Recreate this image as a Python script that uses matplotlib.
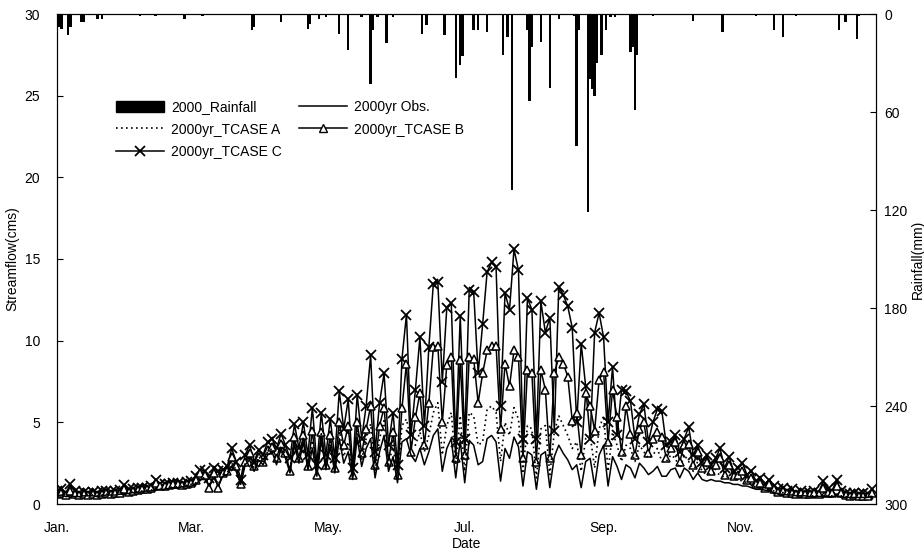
import numpy as np
import matplotlib
matplotlib.use("Agg")
import matplotlib.pyplot as plt
from matplotlib.patches import Patch
from matplotlib.lines import Line2D

plt.rcParams['font.family'] = ['Liberation Sans', 'DejaVu Sans']
plt.rcParams['font.size'] = 10

# day of year (every 2nd day), 2000
days = np.arange(0, 366, 2)

# Observed streamflow (cms)
obs = [0.5,0.55,0.45,0.5,0.45,0.45,0.5,0.5,0.5,0.45,0.5,0.55,0.55,0.55,0.6,0.6,
       0.65,0.7,0.7,0.75,0.8,0.8,0.85,0.9,0.9,0.95,1.0,1.0,1.05,1.1,
       1.1,1.2,1.5,1.5,1.1,1.6,1.1,1.7,1.8,2.3,2.0,1.2,2.4,2.7,2.0,2.7,
       2.4,3.0,3.2,2.4,3.4,2.8,1.9,3.6,2.5,3.8,2.1,3.4,1.7,3.9,2.1,
       3.6,1.9,4.0,2.5,3.2,1.5,4.1,2.3,3.4,4.0,1.6,3.2,4.2,2.0,2.9,
       1.3,3.8,4.0,3.0,2.6,3.4,2.4,3.2,4.2,4.6,2.0,3.4,4.0,1.6,3.9,
       1.3,3.9,3.6,2.4,2.6,4.0,4.2,3.8,1.4,3.4,2.8,4.1,3.5,1.1,3.2,3.0,
       0.9,3.0,3.2,1.0,2.9,3.6,3.1,2.7,2.1,2.4,1.0,2.6,2.8,1.1,3.0,
       3.6,1.1,2.9,2.3,1.5,2.4,2.2,1.6,2.5,2.2,1.8,2.0,2.3,1.7,1.7,
       2.1,2.2,1.6,2.2,2.0,1.5,1.9,1.5,1.4,1.5,1.4,1.4,1.3,1.3,1.2,1.2,
       1.1,1.1,1.0,0.9,0.9,0.85,0.8,0.7,0.6,0.6,0.55,0.55,0.5,0.5,0.5,
       0.45,0.45,0.45,0.5,0.45,0.45,0.5,0.45,0.4,0.4,0.4,0.4,0.4,0.4,0.45]

# TCASE A
case_a = [0.55,0.6,0.5,0.55,0.5,0.5,0.55,0.55,0.55,0.5,0.55,0.6,0.6,0.6,0.65,0.7,
          0.7,0.75,0.75,0.8,0.85,0.85,0.95,0.95,0.95,1.0,1.05,1.05,1.1,1.15,
          1.2,1.3,1.6,1.6,1.2,1.7,1.2,1.8,1.9,2.5,2.1,1.3,2.5,2.9,2.2,2.9,
          2.6,3.2,3.4,2.6,3.6,3.0,2.1,3.9,2.7,4.1,2.3,3.9,1.9,4.3,2.3,
          4.0,2.1,4.6,2.9,3.8,1.7,4.7,2.7,4.0,4.9,2.0,4.0,5.1,2.4,3.6,
          1.5,4.8,5.2,3.8,3.6,4.4,3.2,4.2,5.6,6.2,3.0,4.8,5.6,2.4,5.4,
          2.0,5.6,5.4,3.6,3.8,5.8,6.0,5.6,2.6,5.0,4.2,5.9,5.2,2.0,4.8,4.6,
          1.6,4.6,4.8,1.8,4.4,5.4,4.8,4.2,3.4,3.8,2.0,4.0,4.2,2.2,4.6,
          5.4,2.0,4.4,3.6,2.6,3.6,3.4,2.6,3.6,3.2,2.8,3.0,3.4,2.6,2.6,
          3.0,2.8,2.2,3.0,2.6,2.0,2.6,2.0,1.8,1.9,1.9,1.8,1.6,1.7,1.5,1.5,
          1.4,1.3,1.2,1.0,1.0,1.0,0.9,0.8,0.65,0.7,0.6,0.6,0.55,0.55,0.5,
          0.5,0.5,0.5,0.6,0.5,0.5,0.6,0.5,0.45,0.45,0.45,0.45,0.45,0.4,0.5]

# TCASE B
case_b = [0.6,0.7,0.55,0.8,0.6,0.55,0.6,0.55,0.6,0.55,0.6,0.65,0.6,0.65,0.7,0.9,
          0.75,0.8,0.85,0.9,0.9,1.0,1.3,1.1,1.1,1.15,1.2,1.2,1.15,1.25,
          1.3,1.5,1.9,1.8,1.0,1.9,1.0,1.9,2.0,2.9,2.3,1.2,2.6,3.1,2.3,2.9,
          2.6,3.3,3.5,2.8,3.7,3.1,2.0,4.1,2.8,4.2,2.3,4.5,1.8,4.4,2.4,
          4.2,2.2,5.0,3.6,4.8,1.8,5.0,3.1,4.6,6.0,2.4,4.8,5.9,2.6,4.4,
          1.8,5.9,8.6,3.2,5.3,6.8,3.6,6.2,9.6,9.7,5.0,8.5,9.0,2.8,8.8,
          3.0,9.0,8.9,6.2,8.0,9.4,9.7,9.7,4.6,8.6,7.2,9.4,9.0,2.8,8.2,8.0,
          2.6,8.2,7.0,2.8,8.0,9.0,8.6,7.8,5.1,5.6,3.0,6.8,6.0,4.5,7.6,
          8.1,3.8,7.0,5.3,3.2,6.0,4.3,3.0,4.6,5.0,3.1,4.0,4.4,4.1,2.8,
          3.4,3.8,2.6,3.6,3.7,2.4,3.2,2.2,2.6,2.0,2.4,2.8,1.8,2.4,1.7,1.8,
          2.0,1.5,1.6,1.2,1.3,1.0,1.2,0.9,0.75,0.8,0.65,0.7,0.6,0.65,0.6,
          0.6,0.65,0.6,1.0,0.7,0.65,1.1,0.65,0.55,0.5,0.55,0.5,0.5,0.5,0.7]

# TCASE C
case_c = [0.8,0.9,0.7,1.2,0.8,0.7,0.75,0.7,0.75,0.7,0.8,0.8,0.75,0.8,0.85,1.15,
          0.9,0.9,0.95,1.0,1.0,1.1,1.5,1.2,1.2,1.25,1.3,1.3,1.25,1.35,
          1.4,1.7,2.1,2.0,1.6,2.2,2.0,2.1,2.3,3.4,2.6,1.5,3.0,3.6,2.6,3.3,
          3.0,3.8,4.0,3.4,4.3,3.6,2.8,4.9,3.4,5.0,3.0,5.9,2.4,5.6,3.0,
          5.2,2.8,6.9,4.6,6.4,2.2,6.7,4.0,6.0,9.1,3.2,6.2,8.0,3.6,5.6,
          2.4,8.9,11.6,4.2,7.0,10.2,4.8,9.6,13.5,13.6,7.5,12.0,12.3,3.8,11.5,
          4.0,13.1,13.0,8.0,11.0,14.2,14.8,14.5,6.0,12.9,11.9,15.6,14.3,4.0,12.6,11.9,
          4.0,12.4,10.5,11.4,4.5,13.3,12.8,12.1,10.8,5.0,9.8,7.2,4.0,10.5,11.7,
          10.2,5.0,8.4,4.2,7.0,6.9,6.3,4.0,5.5,6.1,3.8,5.0,5.8,5.7,3.6,
          3.8,4.2,3.2,4.0,4.7,3.0,3.6,2.6,3.0,2.4,2.8,3.4,2.2,2.9,2.0,2.2,
          2.5,1.8,2.0,1.4,1.6,1.2,1.5,1.1,0.9,1.0,0.8,0.9,0.7,0.8,0.7,
          0.7,0.8,0.7,1.4,0.9,0.8,1.5,0.8,0.7,0.6,0.7,0.6,0.65,0.6,0.9]

# daily rainfall (mm), only rainy days
rain_days = [1,2,5,6,11,12,18,20,37,44,57,65,72,76,80,87,88,100,112,113,117,120,
             126,130,136,140,141,143,147,150,163,165,173,178,180,181,186,188,192,
             199,201,203,210,211,212,216,220,224,231,232,233,237,238,239,240,241,
             243,245,247,249,256,257,258,259,266,284,297,312,320,324,330,349,352,357,358]
rain_mm = [8,9,13,8,5,5,3,3,1.5,1.5,3,1,0.5,0.5,0.5,10,8,5,9,6,3,2,
           12,22,2,43,10,2,18,2,12,7,13,39,31,26,10,10,11,
           25,14,108,10,53,20,17,45,3,1,81,10,121,40,46,50,30,
           25,10,2,2,23,20,59,25,1,4,11,1,10,14,1,10,5,15,1]

month_pos = [0, 60, 121, 182, 244, 305]
month_lab = ['Jan.', 'Mar.', 'May.', 'Jul.', 'Sep.', 'Nov.']

fig = plt.figure(figsize=(9.24, 5.58), dpi=100)
ax = fig.add_axes([57/924, 54/558, 819/924, 490/558])

ax.plot(days, case_c, '-', color='black', lw=1.1, marker='x', ms=7, mew=1.3)
ax.plot(days, case_b, '-', color='black', lw=1.1, marker='^', ms=6,
        mfc='white', mec='black', mew=1.1)
ax.plot(days, case_a, color='black', lw=1.2, linestyle=(0, (1, 2)))
ax.plot(days, obs, '-', color='black', lw=1.1)

ax.set_xlim(0, 365.6)
ax.set_ylim(0, 30)
ax.set_yticks(range(0, 31, 5))
ax.set_xticks(month_pos)
ax.set_xticklabels(month_lab)
ax.tick_params(axis='x', length=0, pad=12)
ax.tick_params(axis='y', direction='in', length=4, pad=12)
ax.set_xlabel('Date', labelpad=2)
ax.set_ylabel('Streamflow(cms)', labelpad=4)

ax2 = ax.twinx()
ax2.bar(rain_days, rain_mm, width=1.1, color='black', align='center')
ax2.set_ylim(300, 0)
ax2.set_yticks(range(0, 301, 60))
ax2.tick_params(axis='y', direction='in', length=4, pad=6)
ax2.set_ylabel('Rainfall(mm)', labelpad=2)
ax2.set_xlim(0, 365.6)

for a in (ax, ax2):
    for s in a.spines.values():
        s.set_linewidth(0.8)

handles = [Patch(facecolor='black', edgecolor='black'),
           Line2D([], [], color='black', lw=1.2, linestyle=(0, (1, 2))),
           Line2D([], [], color='black', lw=1.1, marker='x', ms=7, mew=1.3),
           Line2D([], [], color='black', lw=1.1),
           Line2D([], [], color='black', lw=1.1, marker='^', ms=6, mfc='white')]
labels = ['2000_Rainfall', '2000yr_TCASE A', '2000yr_TCASE C',
          '2000yr Obs.', '2000yr_TCASE B']
ax2.legend(handles, labels, ncol=2, frameon=False, loc='upper left',
           bbox_to_anchor=(0.065, 0.835), handlelength=3.5, handleheight=0.9,
           handletextpad=0.5, labelspacing=0.6, columnspacing=1.2,
           borderaxespad=0, markerfirst=True)

fig.savefig('out.png', dpi=100)
